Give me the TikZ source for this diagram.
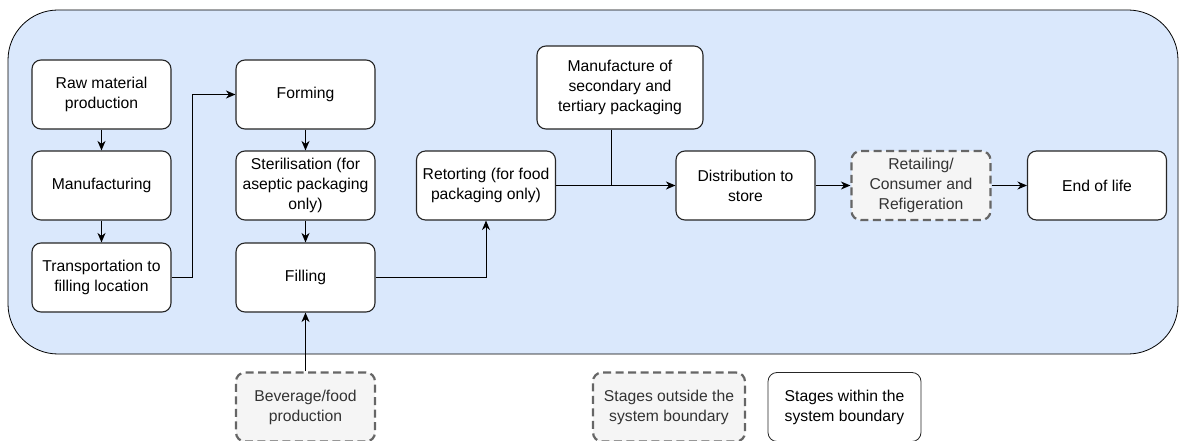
\documentclass[tikz,border=0pt]{standalone}
\usepackage{fontspec}
\setmainfont{Liberation Sans}
\usetikzlibrary{arrows.meta, positioning}
\definecolor{bndfill}{HTML}{DAE8FC}
\definecolor{outfill}{HTML}{F5F5F5}
\definecolor{outline}{HTML}{666666}
\definecolor{txtgrey}{HTML}{333333}

\begin{document}
\begin{tikzpicture}[x=1pt, y=-1pt,
    stage/.style={draw=black!85, fill=white, rounded corners=9pt, line width=1.1pt,
      minimum width=139pt, minimum height=69pt, align=center, inner sep=2pt,
      font=\fontsize{15.7}{20}\selectfont},
    outside/.style={stage, draw=outline, fill=outfill, text=txtgrey,
      dash pattern=on 8pt off 4.5pt, line width=2.2pt},
    flow/.style={-{Stealth[length=9.5pt,width=8pt,inset=3pt]}, line width=1pt}]

    \useasboundingbox (0,0) rectangle (1179,441);

    % system boundary
    \draw[fill=bndfill, line width=0.8pt, rounded corners=50pt] (8,10) rectangle (1178,354);

    % packaging chain
    \node[stage] (raw) at (101.5,94.5) {Raw material\\production};
    \node[stage] (manuf) at (101.5,185.5) {Manufacturing};
    \node[stage] (trans) at (101.5,277.5) {Transportation to\\filling location};

    \node[stage] (form) at (305.5,94.5) {Forming};
    \node[stage] (steril) at (305.5,185.5) {Sterilisation (for\\aseptic packaging\\only)};
    \node[stage] (fill) at (305.5,277.5) {Filling};

    \node[stage] (retort) at (486,185.5) {Retorting (for food\\packaging only)};
    \node[stage, minimum width=166pt, minimum height=83pt] (second) at (620,87.5)
      {Manufacture of\\secondary and\\tertiary packaging};
    \node[stage] (distr) at (745.5,185.5) {Distribution to\\store};
    \node[outside] (retail) at (921,185.5) {Retailing/\\Consumer and\\Refigeration};
    \node[stage] (eol) at (1097,185.5) {End of life};

    % outside the boundary
    \node[outside] (bev) at (305.5,407) {Beverage/food\\production};

    % legend
    \node[outside, minimum width=152pt] (legout) at (669,407) {Stages outside the\\system boundary};
    \node[stage, minimum width=153pt, line width=0.8pt] (legin) at (844.5,407) {Stages within the\\system boundary};

    % flows
    \draw[flow] (raw) -- (manuf);
    \draw[flow] (manuf) -- (trans);
    \draw[flow] (trans.east) -- ++(21,0) |- (form.west);
    \draw[flow] (form) -- (steril);
    \draw[flow] (steril) -- (fill);
    \draw[flow] (fill.east) -| (retort.south);
    \draw[flow] (retort.east) -- (distr.west);
    \coordinate (join) at (611,185.5);
    \draw[line width=1pt] (second.south -| join) -- (join);
    \draw[flow] (distr) -- (retail);
    \draw[flow] (retail) -- (eol);
    \draw[flow] (bev) -- (fill);
\end{tikzpicture}
\end{document}
